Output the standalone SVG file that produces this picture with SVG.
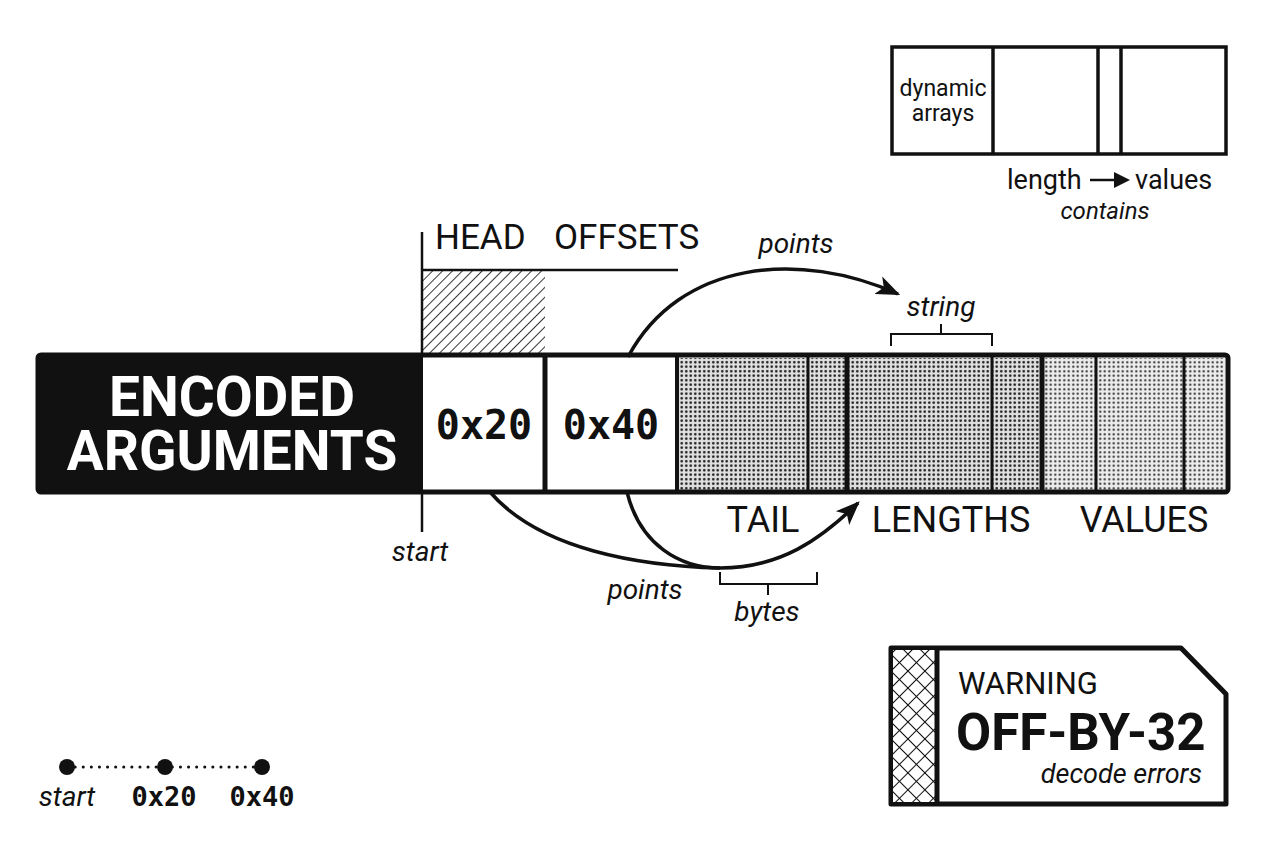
<svg xmlns="http://www.w3.org/2000/svg" width="1264" height="848" viewBox="0 0 1264 848">
<defs>
<style>
.sans{font-family:Roboto,"Liberation Sans",sans-serif;fill:#111}
.it{font-family:Roboto,"Liberation Sans",sans-serif;font-style:italic;fill:#111}
.mono{font-family:"DejaVu Sans Mono","Liberation Mono",monospace;font-weight:bold;fill:#111}
.ln{stroke:#111;fill:none}
</style>
<pattern id="hatch" width="7" height="7" patternUnits="userSpaceOnUse" patternTransform="rotate(45)">
<rect width="7" height="7" fill="#fff"/><line x1="0" y1="0" x2="0" y2="7" stroke="#111" stroke-width="1.7"/>
</pattern>
<pattern id="dots" width="4.5" height="4.5" patternUnits="userSpaceOnUse">
<rect width="4.5" height="4.5" fill="#e0e0e0"/><circle cx="2.25" cy="2.25" r="1.3" fill="#1a1a1a"/>
</pattern>
<pattern id="dots2" width="4.5" height="4.5" patternUnits="userSpaceOnUse">
<rect width="4.5" height="4.5" fill="#ececec"/><circle cx="2.25" cy="2.25" r="1.1" fill="#2a2a2a"/>
</pattern>
<pattern id="cross" width="12" height="12" patternUnits="userSpaceOnUse" patternTransform="rotate(45)">
<rect width="12" height="12" fill="#fff"/><line x1="0" y1="0" x2="0" y2="12" stroke="#111" stroke-width="2"/><line x1="0" y1="0" x2="12" y2="0" stroke="#111" stroke-width="2"/>
</pattern>
<marker id="arrL" viewBox="0 0 10 10" refX="9" refY="5" markerWidth="24" markerHeight="24" orient="auto" markerUnits="userSpaceOnUse">
<path d="M0,1 L10,5 L0,9 L2.5,5 z" fill="#111"/>
</marker>
</defs>
<rect width="1264" height="848" fill="#fff"/>

<g id="head-offsets">
<rect x="422" y="270" width="123" height="87" fill="url(#hatch)"/>
<line class="ln" x1="422" y1="270" x2="678" y2="270" stroke-width="2.5"/>
<line class="ln" x1="422" y1="232" x2="422" y2="357" stroke-width="2.5"/>
<text class="sans" x="435" y="249" font-size="35">HEAD</text>
<text class="sans" x="554" y="249" font-size="35">OFFSETS</text>
</g>

<g id="encoded-bar">
<rect x="422" y="358" width="803" height="132" fill="#fff"/>
<rect x="678" y="358" width="130" height="132" fill="url(#dots)"/>
<rect x="808" y="358" width="40" height="132" fill="url(#dots)"/>
<rect x="848" y="358" width="145" height="132" fill="url(#dots)"/>
<rect x="993" y="358" width="50" height="132" fill="url(#dots)"/>
<rect x="1043" y="358" width="54" height="132" fill="url(#dots2)"/>
<rect x="1097" y="358" width="88" height="132" fill="url(#dots2)"/>
<rect x="1185" y="358" width="40" height="132" fill="url(#dots2)"/>
<rect x="38" y="355" width="1190" height="137" rx="3" fill="none" stroke="#111" stroke-width="5"/>
<rect x="38" y="355" width="385" height="137" rx="3" fill="#111"/>
<g stroke="#111">
<line x1="545" y1="357" x2="545" y2="491" stroke-width="5"/>
<line x1="677" y1="357" x2="677" y2="491" stroke-width="4"/>
<line x1="808" y1="357" x2="808" y2="491" stroke-width="3"/>
<line x1="847" y1="357" x2="847" y2="491" stroke-width="5"/>
<line x1="992" y1="357" x2="992" y2="491" stroke-width="3"/>
<line x1="1042" y1="357" x2="1042" y2="491" stroke-width="5"/>
<line x1="1096" y1="357" x2="1096" y2="491" stroke-width="3"/>
<line x1="1184" y1="357" x2="1184" y2="491" stroke-width="3"/>
</g>
<text x="232" y="416" font-family="Roboto,'Liberation Sans',sans-serif" font-weight="bold" font-size="55" fill="#fff" text-anchor="middle">ENCODED</text>
<text x="232" y="470" font-family="Roboto,'Liberation Sans',sans-serif" font-weight="bold" font-size="55" fill="#fff" text-anchor="middle">ARGUMENTS</text>
<text class="mono" x="484" y="439" font-size="40" text-anchor="middle">0x20</text>
<text class="mono" x="611" y="439" font-size="40" text-anchor="middle">0x40</text>
<text class="sans" x="763" y="532" font-size="36" text-anchor="middle">TAIL</text>
<text class="sans" x="951" y="532" font-size="36" text-anchor="middle">LENGTHS</text>
<text class="sans" x="1144" y="532" font-size="36" text-anchor="middle">VALUES</text>
</g>

<g id="start-marker">
<line class="ln" x1="422" y1="492" x2="422" y2="532" stroke-width="2.5"/>
<text class="it" x="420" y="561" font-size="28" text-anchor="middle">start</text>
</g>

<g id="connectors">
<path class="ln" d="M628,357 C680,260 800,250 898,294" stroke-width="3.5" marker-end="url(#arrL)"/>
<path class="ln" d="M490,492 C540,550 640,566 720,568" stroke-width="3.5"/>
<path class="ln" d="M627,492 C640,545 680,568 720,568 C780,568 820,540 858,503" stroke-width="3.5" marker-end="url(#arrL)"/>
</g>

<g id="labels">
<text class="it" x="796" y="253" font-size="28" text-anchor="middle">points</text>
<text class="it" x="941" y="316" font-size="28" text-anchor="middle">string</text>
<path class="ln" d="M891,346 V334 H992 V346 M941,334 V324" stroke-width="2"/>
<text class="it" x="645" y="599" font-size="28" text-anchor="middle">points</text>
<path class="ln" d="M720,572 V584 H817 V572 M768,584 V595" stroke-width="2"/>
<text class="it" x="767" y="621" font-size="28" text-anchor="middle">bytes</text>
</g>

<g id="dynamic-arrays">
<rect x="892" y="47" width="334" height="107" fill="#fff" stroke="#111" stroke-width="3.5"/>
<g stroke="#111" stroke-width="3.5">
<line x1="993" y1="47" x2="993" y2="154"/>
<line x1="1098" y1="47" x2="1098" y2="154"/>
<line x1="1121" y1="47" x2="1121" y2="154"/>
</g>
<text class="sans" x="943" y="96" font-size="23" text-anchor="middle">dynamic</text>
<text class="sans" x="943" y="121" font-size="23" text-anchor="middle">arrays</text>
<text class="sans" x="1007" y="189" font-size="27">length</text>
<line class="ln" x1="1090" y1="180" x2="1120" y2="180" stroke-width="2.5"/>
<path d="M1114,172 L1130,180 L1114,188 z" fill="#111"/>
<text class="sans" x="1135" y="189" font-size="27">values</text>
<text class="it" x="1105" y="219" font-size="24" text-anchor="middle">contains</text>
</g>

<g id="warning">
<path d="M891,648 H1181 L1226,694 V804 H891 Z" fill="#fff" stroke="#111" stroke-width="5" stroke-linejoin="round"/>
<rect x="893" y="650" width="44" height="152" fill="url(#cross)"/>
<line x1="937" y1="648" x2="937" y2="804" stroke="#111" stroke-width="5"/>
<text class="sans" x="958" y="694" font-size="31">WARNING</text>
<text class="sans" x="956" y="750" font-size="51" font-weight="bold">OFF-BY-32</text>
<text class="it" x="1202" y="783" font-size="27" text-anchor="end">decode errors</text>
</g>

<g id="legend">
<line x1="67" y1="767" x2="262" y2="767" stroke="#111" stroke-width="3" stroke-dasharray="0.1 8" stroke-linecap="round"/>
<circle cx="67" cy="767" r="8" fill="#111"/>
<circle cx="165" cy="767" r="8" fill="#111"/>
<circle cx="262" cy="767" r="8" fill="#111"/>
<text class="it" x="67" y="806" font-size="28" text-anchor="middle">start</text>
<text class="mono" x="164" y="806" font-size="27" text-anchor="middle">0x20</text>
<text class="mono" x="262" y="806" font-size="27" text-anchor="middle">0x40</text>
</g>
</svg>
